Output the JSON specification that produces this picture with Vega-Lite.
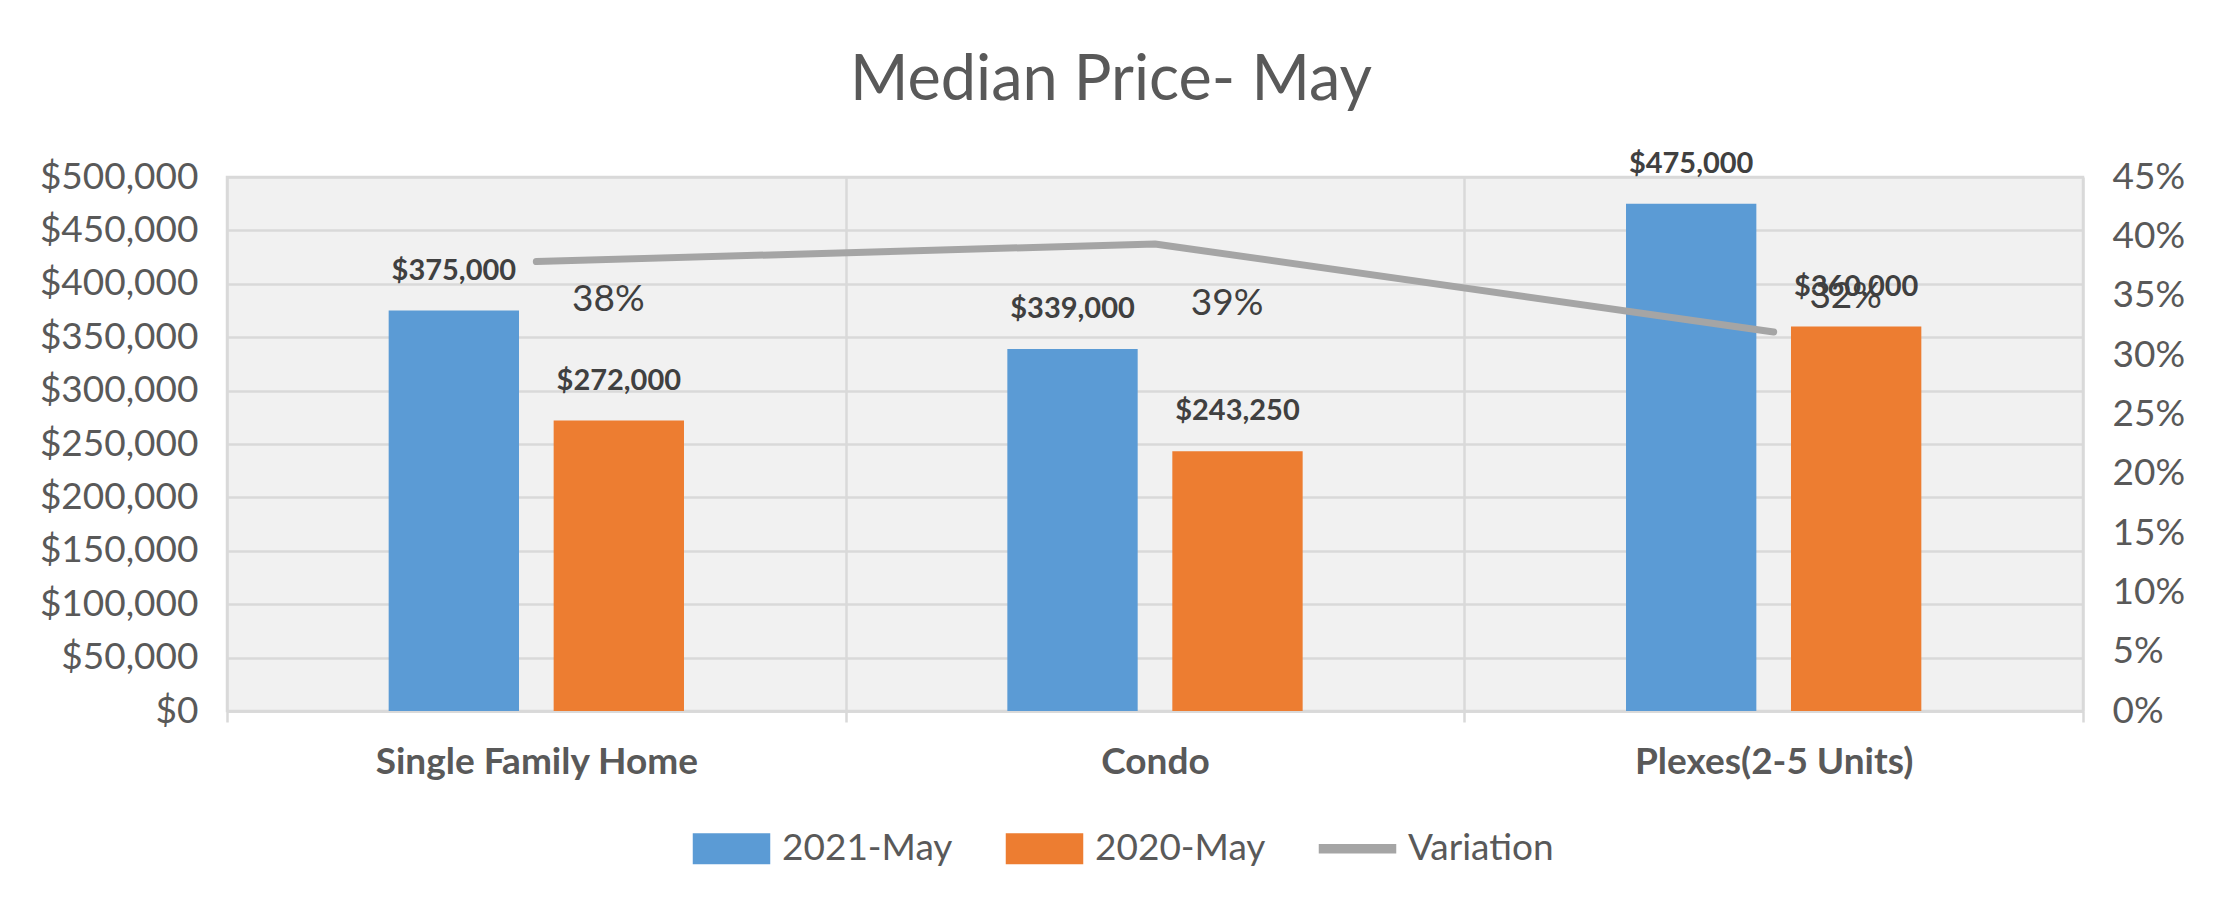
{
  "$schema": "https://vega.github.io/schema/vega-lite/v6.json",
  "width": 1856,
  "height": 534,
  "autosize": {"type": "none"},
  "padding": {"left": 227, "top": 177, "right": 139, "bottom": 205},
  "background": "white",
  "config": {
    "font": "Lato",
    "view": {"fill": "#f1f1f1", "stroke": "#d9d9d9", "strokeWidth": 2.5}
  },
  "title": {
    "text": "Median Price- May",
    "fontSize": 63,
    "fontWeight": "normal",
    "font": "Lato",
    "color": "#595959",
    "anchor": "middle",
    "frame": "group",
    "dx": -44,
    "baseline": "bottom",
    "offset": -26
  },
  "datasets": {
    "prices": [
      {"category": "Single Family Home", "series": "2021-May", "price": 375000},
      {"category": "Single Family Home", "series": "2020-May", "price": 272000},
      {"category": "Condo", "series": "2021-May", "price": 339000},
      {"category": "Condo", "series": "2020-May", "price": 243250},
      {"category": "Plexes(2-5 Units)", "series": "2021-May", "price": 475000},
      {"category": "Plexes(2-5 Units)", "series": "2020-May", "price": 360000}
    ],
    "variation": [
      {"category": "Single Family Home", "series": "Variation", "variation": 0.3787},
      {"category": "Condo", "series": "Variation", "variation": 0.3936},
      {"category": "Plexes(2-5 Units)", "series": "Variation", "variation": 0.3194}
    ]
  },
  "encoding": {
    "x": {
      "field": "category",
      "type": "nominal",
      "sort": ["Single Family Home", "Condo", "Plexes(2-5 Units)"],
      "scale": {"paddingInner": 0, "paddingOuter": 0},
      "axis": {
        "title": null,
        "labelAngle": 0,
        "labelFontSize": 37,
        "labelFontWeight": "bold",
        "labelColor": "#595959",
        "labelPadding": 22,
        "labelLimit": 0,
        "tickBand": "extent",
        "grid": true,
        "gridColor": "#d9d9d9",
        "gridWidth": 2.5,
        "ticks": true,
        "tickColor": "#d9d9d9",
        "tickWidth": 2.5,
        "tickSize": 11,
        "domainColor": "#d9d9d9",
        "domainWidth": 2.5
      }
    }
  },
  "layer": [
    {
      "data": {"name": "prices"},
      "encoding": {
        "xOffset": {
          "field": "series",
          "type": "nominal",
          "sort": ["2021-May", "2020-May"],
          "scale": {"paddingInner": 0.21, "paddingOuter": 0.98}
        },
        "y": {
          "field": "price",
          "type": "quantitative",
          "scale": {"domain": [0, 500000]},
          "axis": {
            "title": null,
            "values": [0, 50000, 100000, 150000, 200000, 250000, 300000, 350000, 400000, 450000, 500000],
            "format": "$,.0f",
            "labelFontSize": 37,
            "labelColor": "#595959",
            "labelPadding": 29,
            "ticks": false,
            "domain": false,
            "grid": true,
            "gridColor": "#d9d9d9",
            "gridWidth": 2.5
          }
        }
      },
      "layer": [
        {
          "mark": {"type": "bar"},
          "encoding": {
            "color": {
              "field": "series",
              "type": "nominal",
              "scale": {
                "domain": ["2021-May", "2020-May", "Variation"],
                "range": ["#5b9bd5", "#ed7d31", "#a5a5a5"]
              },
              "legend": {
                "orient": "none",
                "legendX": 486,
                "legendY": 653,
                "direction": "horizontal",
                "title": null,
                "labelFontSize": 37,
                "labelColor": "#595959",
                "labelLimit": 0,
                "symbolSize": 961,
                "symbolStrokeWidth": 0,
                "labelOffset": 32,
                "columnPadding": 52,
                "encode": {
                  "symbols": {
                    "update": {
                      "shape": {"signal": "datum.value === 'Variation' ? 'M-2.5,-0.3H2.5V0.3H-2.5Z' : 'M-2.5,-1H2.5V1H-2.5Z'"},
                      "fill": {"signal": "scale('color', datum.value)"},
                      "stroke": {"value": "transparent"},
                      "opacity": {"value": 1}
                    }
                  }
                }
              }
            }
          }
        },
        {
          "mark": {
            "type": "text",
            "fontSize": 29,
            "fontWeight": "bold",
            "color": "#404040",
            "baseline": "middle",
            "align": "center",
            "dy": -40
          },
          "encoding": {
            "text": {"field": "price", "type": "quantitative", "format": "$,.0f"}
          }
        }
      ]
    },
    {
      "data": {"name": "variation"},
      "encoding": {
        "y": {
          "field": "variation",
          "type": "quantitative",
          "scale": {"domain": [0, 0.45]},
          "axis": {
            "orient": "right",
            "title": null,
            "values": [0, 0.05, 0.1, 0.15, 0.2, 0.25, 0.3, 0.35, 0.4, 0.45],
            "format": ".0%",
            "labelFontSize": 37,
            "labelColor": "#595959",
            "labelPadding": 29,
            "ticks": false,
            "domain": false,
            "grid": false
          }
        }
      },
      "layer": [
        {
          "mark": {"type": "line", "strokeWidth": 7, "strokeCap": "round", "strokeJoin": "round"},
          "encoding": {
            "color": {"field": "series", "type": "nominal"}
          }
        },
        {
          "mark": {
            "type": "text",
            "fontSize": 37,
            "color": "#404040",
            "baseline": "middle",
            "align": "center",
            "dx": 72,
            "dy": {"expr": "datum.category === 'Condo' ? 60 : datum.category === 'Plexes(2-5 Units)' ? -35 : 38"}
          },
          "encoding": {
            "text": {"field": "variation", "type": "quantitative", "format": ".0%"}
          }
        }
      ]
    }
  ],
  "resolve": {"scale": {"y": "independent"}}
}
